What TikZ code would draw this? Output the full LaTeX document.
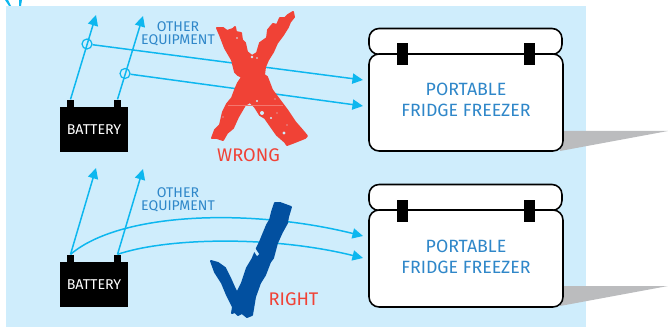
\documentclass[tikz,border=0pt]{standalone}
\usepackage{fontspec}
\setmainfont{Fira Sans}
\usepackage{xcolor}
\usetikzlibrary{arrows.meta,positioning}

\definecolor{panelblue}{HTML}{CFEDFC}
\definecolor{wirecyan}{HTML}{0DB7EF}
\definecolor{textblue}{HTML}{2F87C9}
\definecolor{markred}{HTML}{F04236}
\definecolor{markblue}{HTML}{0250A0}
\definecolor{shadowgrey}{HTML}{BBBCBE}

\begin{document}
\begin{tikzpicture}[
  x=0.02cm, y=-0.02cm,
  >={Triangle[length=6pt,width=5.8pt]},
  wire/.style={line width=0.85pt, wirecyan},
  junction/.style={circle, draw=wirecyan, line width=0.7pt, minimum size=0.2cm, inner sep=0pt},
  batbody/.style={rectangle, fill=black, text=white, minimum width=1.36cm, minimum height=0.9cm, inner sep=0pt,
                  font=\fontsize{8.1}{9}\selectfont},
  batpost/.style={rectangle, fill=black, minimum width=0.14cm, minimum height=0.15cm, inner sep=0pt},
  lid/.style={rectangle, rounded corners=0.2cm, draw, line width=0.9pt, fill=white, minimum width=3.86cm, minimum height=0.52cm, inner sep=0pt},
  cabinet/.style={rectangle, rounded corners=0.2cm, draw, line width=0.9pt, fill=white, minimum width=3.88cm, minimum height=1.94cm, inner sep=0pt},
  latch/.style={rectangle, fill=black, minimum width=0.22cm, minimum height=0.44cm, inner sep=0pt},
  fridgetext/.style={align=center, text=textblue, font=\fontsize{10.1}{11.9}\selectfont},
  othertext/.style={align=center, text=textblue, font=\fontsize{8}{7.4}\selectfont},
  verdict/.style={text=markred, font=\fontsize{10.4}{12}\selectfont},
]
\useasboundingbox (0,0) rectangle (668,327);

% Panel and shadows
\fill[panelblue] (6,6) rectangle (586,327);
\fill[wirecyan] (5,0) -- (8,0) -- (11,6) -- (9,6) -- cycle (19,0) -- (22,0) -- (21,6) -- (19,6) -- cycle;
\fill[shadowgrey] (563,131) -- (668,131) -- (560,151) -- cycle;
\fill[shadowgrey] (563,286) -- (668,286) -- (560,306) -- cycle;

% Upper fridge
\node[lid] (lidA) at (465.5,41.5) {};
\node[cabinet] (bodyA) at (466,102.5) {};
\node[latch] (latchAl) at (402.5,54) {};
\node[latch] (latchAr) at (529.5,54) {};
\node[fridgetext] (textA) at (466,99.5) {PORTABLE\\FRIDGE FREEZER};

% Lower fridge
\node[lid] (lidB) at (465.5,197.5) {};
\node[cabinet] (bodyB) at (466,258.5) {};
\node[latch] (latchBl) at (402.5,211) {};
\node[latch] (latchBr) at (529.5,211) {};
\node[fridgetext] (textB) at (466,256.5) {PORTABLE\\FRIDGE FREEZER};

% Upper battery
\node[batbody] (batA) at (94,129.5) {BATTERY};
\node[batpost] (postAl) at (70.5,103.5) {};
\node[batpost] (postAr) at (117.5,103.5) {};

% Lower battery
\node[batbody] (batB) at (94,284.5) {BATTERY};
\node[batpost] (postBl) at (70.5,258.5) {};
\node[batpost] (postBr) at (117.5,258.5) {};

% Free ends of the wires
\coordinate (upAl) at (96,15);
\coordinate (upAr) at (143,16);
\coordinate (upBl) at (96,168);
\coordinate (upBr) at (143,169);
\coordinate (inAt) at (363,80);
\coordinate (inAb) at (363,106);
\coordinate (inBt) at (363,236);
\coordinate (inBb) at (363,258);

% Wrong wiring, fridge tapped off the equipment leads
\node[junction] (tapA) at (87,44) {};
\node[junction] (tapB) at (125,73.5) {};
\draw[wire,->] (postAl.north) -- (upAl);
\draw[wire,->] (postAr.north) -- (upAr);
\draw[wire,->] (tapA) -- (inAt);
\draw[wire,->] (tapB) -- (inAb);

% Right wiring, fridge straight from the posts
\draw[wire,->] (postBl.north) .. controls (120,212) and (250,208) .. (inBt);
\draw[wire,->] (postBr.north) .. controls (165,238) and (270,235) .. (inBb);
\draw[wire,->] (postBl.north) -- (upBl);
\draw[wire,->] (postBr.north) -- (upBr);

\node[othertext] (otherA) at (178,33.5) {OTHER\\EQUIPMENT};
\node[othertext] (otherB) at (178,199.5) {OTHER\\EQUIPMENT};

% Painted cross
\filldraw[markred, line width=1.1pt, line join=round] (217,28) -- (223,28) -- (227,31) -- (233,29) -- (235,27) -- (236,32)
  -- (241,33) -- (242,40) -- (245,43) -- (247,52) -- (252,56) -- (257,53) -- (260,43) -- (267,38) -- (268,30) -- (273,24)
  -- (277,25) -- (280,18) -- (285,18) -- (288,15) -- (293,12) -- (294,17) -- (290,22) -- (288,27) -- (283,35) -- (277,43)
  -- (273,52) -- (268,60) -- (265,67) -- (264,75) -- (267,77) -- (272,90) -- (278,98) -- (287,110) -- (295,122) -- (302,130)
  -- (307,136) -- (305,138) -- (295,142) -- (287,145) -- (285,142) -- (277,135) -- (272,128) -- (265,118) -- (260,115)
  -- (255,107) -- (250,102) -- (245,105) -- (238,117) -- (233,128) -- (227,133) -- (223,140) -- (217,138) -- (212,138)
  -- (215,130) -- (220,125) -- (223,112) -- (227,104) -- (232,98) -- (235,90) -- (238,83) -- (242,77) -- (238,75)
  -- (235,72) -- (232,60) -- (225,48) -- (220,35) -- cycle;
\draw[markred!72!white, line width=0.3pt] (228,105) -- (283,105);
\fill[panelblue] (257,101) circle (1.2) (271,118) circle (1.1) (284,133) circle (1.6) (262,113) circle (2)
  (223,117) circle (0.7) (277,113) circle (0.7) (275,99) circle (0.7) (287,125) circle (0.7) (252,57) circle (1.4)
  (257,58) circle (0.9) (237,38) circle (0.8);

% Brushed tick
\filldraw[markblue, line width=1.1pt, line join=round] (211,261) -- (218,263) -- (225,268) -- (230,278) -- (234,287) -- (237,293)
  -- (242,283) -- (247,268) -- (253,258) -- (252,260) -- (257,248) -- (260,242) -- (262,237) -- (267,225) -- (270,220)
  -- (272,212) -- (275,203) -- (280,203) -- (291,207) -- (288,217) -- (287,223) -- (282,232) -- (277,243) -- (273,258)
  -- (270,262) -- (265,275) -- (260,283) -- (255,297) -- (252,315) -- (247,317) -- (242,313) -- (238,315) -- (235,312)
  -- (232,313) -- (233,307) -- (227,295) -- (222,283) -- (215,272) -- cycle;
\fill[panelblue] (253,250) -- (255,248) -- (259,254) -- (257,256) -- cycle;

\node[verdict] (wrong) at (248.5,155) {WRONG};
\node[verdict] (right) at (293.5,299) {RIGHT};

\end{tikzpicture}
\end{document}
